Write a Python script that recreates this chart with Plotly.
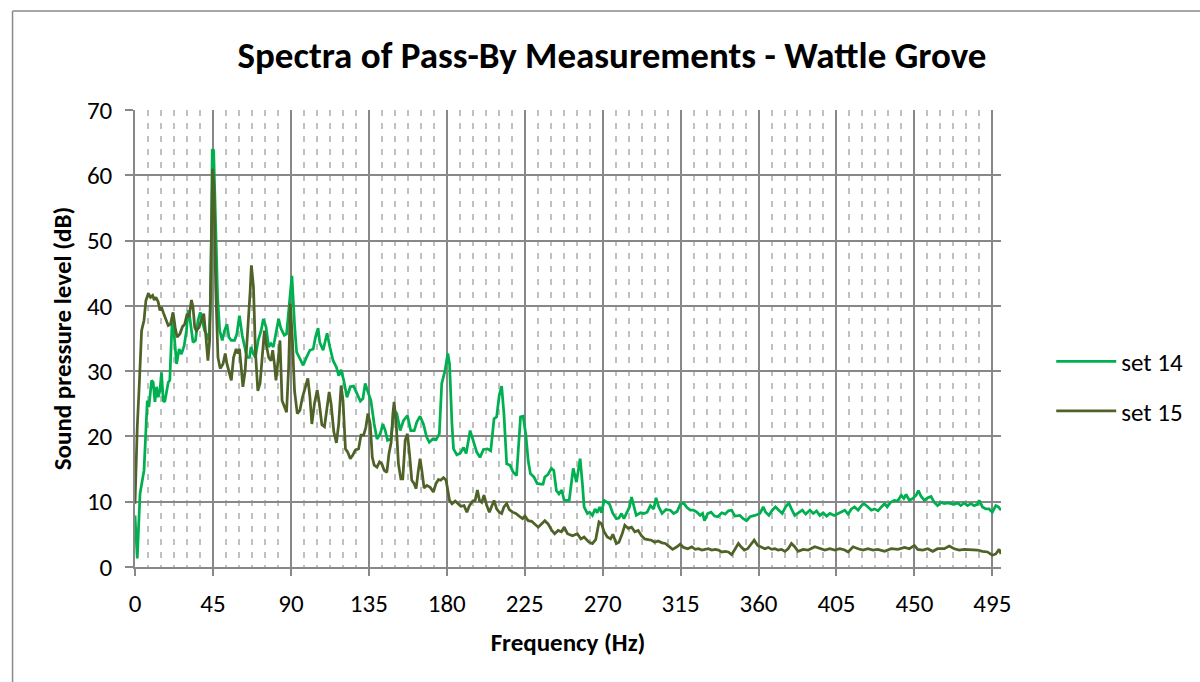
import plotly.graph_objects as go

# Spectrum of pass-by set 14 (frequency in Hz, level in dB)
set14_freq = [
    0, 1.3, 2.9, 5.2, 7.1, 8.0, 9.6, 10.5, 11.5, 12.5, 13.4, 14.4, 15.3, 16.3, 17.2, 19.2, 20.1, 21.6,
    24.0, 25.5, 26.8, 28.4, 29.7, 30.7, 31.6, 32.6, 33.5, 34.9, 36.4, 37.7, 38.9, 40.2, 41.6, 42.7,
    43.7, 44.6, 45.4, 46.6, 47.7, 48.9, 50.4, 51.7, 53.1, 54.2, 55.6, 57.5, 58.8, 60.3, 61.9, 63.2,
    64.6, 66.1, 67.0, 68.4, 69.5, 71.1, 72.8, 74.1, 75.7, 77.2, 78.5, 79.9, 81.4, 82.9, 84.3, 86.2,
    87.5, 89.1, 90.6, 92.1, 93.3, 95.2, 97.1, 99.0, 101.0, 102.9, 104.2, 105.7, 106.7, 108.6, 110.9,
    112.5, 114.4, 116.3, 117.6, 119.0, 120.5, 122.4, 124.3, 126.2, 128.2, 130.1, 131.6, 132.9, 134.3,
    136.2, 138.1, 139.7, 141.6, 143.1, 144.5, 145.8, 147.7, 149.7, 151.2, 153.1, 155.0, 157.3, 159.2,
    161.2, 162.7, 164.6, 166.5, 168.4, 169.9, 171.9, 173.8, 175.7, 177.1, 179.0, 180.6, 181.6, 183.0,
    183.9, 185.8, 187.7, 189.7, 191.2, 193.5, 195.4, 197.3, 199.2, 201.2, 203.5, 205.4, 207.3, 208.8,
    210.3, 211.7, 213.0, 214.6, 216.5, 218.4, 220.3, 221.8, 222.6, 224.1, 225.7, 227.0, 228.3, 230.3,
    232.2, 234.1, 235.6, 236.6, 238.5, 240.4, 241.8, 243.3, 244.8, 246.4, 247.8, 250.7, 253.0, 254.9,
    257.0, 258.3, 259.3, 261.2, 262.5, 264.1, 265.6, 266.9, 268.3, 269.4, 270.8, 272.7, 274.0, 275.9,
    277.9, 279.4, 280.9, 282.3, 284.2, 285.5, 286.7, 288.0, 289.4, 291.8, 293.8, 295.7, 297.6, 299.5,
    300.8, 302.4, 304.3, 306.6, 309.1, 311.0, 313.0, 314.8, 316.7, 318.7, 320.6, 322.5, 324.4, 326.3,
    327.7, 328.8, 330.7, 332.6, 334.6, 336.5, 338.8, 340.7, 342.6, 344.5, 346.4, 349.3, 351.2, 353.1,
    355.1, 357.9, 360.8, 362.7, 364.1, 366.0, 367.9, 369.8, 371.7, 373.7, 375.6, 377.5, 379.0, 380.9,
    382.5, 385.3, 387.2, 389.7, 391.6, 393.5, 395.4, 397.3, 399.3, 401.2, 403.7, 406.0, 407.9, 409.8,
    411.7, 413.6, 415.5, 417.5, 419.4, 420.9, 423.2, 425.1, 427.0, 429.0, 430.9, 432.8, 434.3, 436.2,
    438.5, 440.4, 442.4, 443.9, 445.2, 447.1, 449.1, 451.0, 452.3, 453.9, 455.8, 457.7, 459.6, 461.5,
    463.4, 465.4, 467.3, 469.2, 471.1, 473.0, 474.9, 476.8, 478.8, 480.7, 482.6, 484.5, 486.4, 487.4,
    489.3, 491.2, 493.1, 495.0, 497.0, 498.5, 500.0,
]
set14_level = [
    7.9, 1.3, 11.2, 14.8, 25.5, 24.5, 28.6, 28.3, 25.3, 27.6, 26.0, 27.0, 29.8, 25.5, 25.3, 28.3, 28.6, 38.8,
    31.1, 33.4, 32.6, 33.9, 36.2, 39.3, 38.3, 36.2, 34.4, 34.7, 37.8, 39.0, 37.8, 36.2, 35.5, 34.7,
    40.8, 64.0, 63.8, 53.6, 41.3, 36.2, 34.7, 36.2, 37.2, 35.2, 34.7, 34.7, 35.7, 38.5, 35.5, 33.9,
    32.1, 32.1, 33.7, 32.6, 32.1, 34.7, 36.2, 38.0, 36.7, 33.7, 34.2, 33.7, 35.7, 38.0, 36.5, 35.5,
    35.7, 39.8, 44.6, 37.2, 32.9, 31.9, 30.9, 32.1, 33.2, 33.4, 35.2, 36.6, 34.4, 33.2, 35.8,
    33.7, 31.6, 30.6, 29.3, 30.2, 28.6, 26.0, 27.6, 27.7, 26.5, 25.4, 25.8, 28.1, 27.0,
    25.5, 21.9, 19.6, 20.4, 21.9, 20.9, 19.4, 19.6, 24.0, 23.5, 20.9, 22.4, 23.2, 20.9,
    20.9, 22.2, 23.1, 21.9, 19.9, 19.1, 19.6, 19.5, 20.4, 28.1, 30.1, 32.7, 31.1, 21.9,
    18.1, 17.2, 17.4, 18.3, 17.4, 20.9, 19.4, 17.6, 16.8, 18.0, 18.1, 17.8, 22.7, 23.0,
    26.3, 27.7, 23.5, 15.8, 15.6, 14.5, 14.0, 19.4, 23.0, 23.1, 20.2, 16.3, 14.3, 13.8,
    12.8, 12.7, 12.7, 13.8, 14.2, 15.1, 14.8, 11.7, 11.2, 11.8, 10.2, 10.2, 15.1, 13.0,
    16.6, 12.8, 9.2, 8.2, 8.4, 7.9, 8.9, 8.3, 9.2, 8.3, 10.2, 9.9, 9.6, 8.2,
    7.4, 7.5, 8.2, 7.4, 8.4, 9.2, 10.7, 9.2, 7.9, 8.3, 8.2, 8.4, 9.4, 8.9,
    10.6, 9.2, 8.2, 8.8, 8.7, 8.2, 8.5, 9.6, 9.8, 9.1, 8.7, 8.7, 8.4, 7.9,
    8.2, 7.1, 8.2, 8.4, 7.8, 7.7, 8.3, 8.1, 8.6, 8.7, 7.8, 7.9, 7.4, 7.1,
    7.7, 7.9, 8.2, 9.2, 8.4, 7.9, 8.7, 9.2, 8.7, 8.2, 9.2, 9.8, 8.9, 7.9,
    8.2, 8.7, 8.1, 8.7, 8.2, 8.6, 7.9, 8.3, 7.8, 8.2, 7.9, 8.2, 8.4, 8.7,
    8.1, 8.9, 9.2, 8.7, 9.4, 9.7, 9.2, 8.7, 8.9, 8.6, 9.2, 9.7, 9.2, 9.9,
    10.2, 10.1, 11.0, 10.5, 11.1, 10.2, 10.5, 11.0, 11.7, 10.8, 10.2, 10.6, 10.8, 9.9,
    9.4, 9.9, 9.7, 9.8, 9.7, 9.6, 9.8, 9.4, 9.8, 9.4, 9.7, 9.4, 9.6, 10.2,
    9.2, 8.9, 8.9, 8.4, 9.4, 9.2, 8.7,
]

# Spectrum of pass-by set 15 (frequency in Hz, level in dB)
set15_freq = [
    0, 1.3, 2.5, 3.8, 5.2, 6.3, 7.7, 9.0, 10.2, 11.1, 12.1, 13.4, 14.4, 15.3, 16.3, 17.8, 19.2, 20.5,
    22.0, 23.2, 24.3, 25.9, 27.4, 28.7, 30.1, 31.2, 32.6, 33.5, 34.5, 35.4, 37.0, 38.3, 39.7, 40.8,
    42.1, 43.1, 44.1, 44.8, 45.6, 46.6, 47.9, 49.2, 50.8, 52.1, 53.1, 54.6, 55.6, 56.9, 58.4, 59.4,
    60.3, 61.3, 62.3, 63.6, 65.1, 66.5, 67.2, 68.4, 69.5, 70.9, 72.2, 73.8, 74.7, 75.7, 77.2, 78.5,
    79.5, 80.5, 81.4, 82.6, 83.7, 84.9, 86.2, 87.5, 88.7, 89.7, 90.8, 92.1, 93.7, 95.2, 96.7, 98.5,
    99.8, 101.0, 102.1, 103.6, 105.2, 106.3, 107.9, 109.4, 110.5, 112.1, 113.2, 114.8, 116.3, 117.6,
    119.0, 120.1, 121.5, 122.8, 124.3, 125.7, 127.2, 129.1, 130.5, 132.0, 133.3, 134.5, 135.8, 137.0,
    138.1, 139.7, 141.2, 142.5, 143.9, 145.4, 146.6, 147.9, 148.9, 149.6, 150.8, 152.1, 153.5, 154.6,
    156.0, 157.3, 158.5, 159.8, 161.1, 162.3, 163.6, 164.6, 165.6, 166.9, 168.5, 170.4, 172.3, 173.8,
    175.2, 176.5, 178.1, 179.6, 181.6, 183.0, 184.9, 186.8, 188.1, 190.0, 191.6, 193.1, 195.0, 196.4,
    197.7, 198.9, 200.2, 201.5, 203.1, 204.6, 205.9, 207.3, 208.8, 210.3, 211.7, 213.0, 214.6, 216.1,
    218.0, 219.9, 221.8, 223.8, 225.1, 227.0, 229.0, 230.9, 232.8, 234.7, 236.6, 238.5, 240.4, 242.3,
    244.3, 246.2, 247.8, 249.7, 252.6, 255.4, 257.4, 259.3, 262.1, 264.1, 266.0, 267.9, 269.4, 270.8,
    272.7, 274.6, 275.9, 277.9, 279.4, 281.3, 282.8, 284.8, 286.7, 288.6, 290.5, 292.4, 294.3, 296.2,
    298.2, 300.1, 302.0, 304.3, 306.2, 308.1, 310.4, 312.9, 314.8, 316.7, 319.2, 321.5, 323.4, 325.4,
    327.3, 329.2, 331.1, 333.0, 335.0, 336.9, 338.8, 340.7, 342.6, 344.5, 346.4, 348.4, 349.9, 351.8,
    353.7, 355.6, 357.5, 359.5, 361.8, 363.7, 365.6, 367.6, 369.4, 371.3, 373.3, 375.2, 377.1, 379.0,
    380.9, 382.8, 385.8, 388.7, 392.5, 395.4, 398.3, 401.2, 404.0, 406.9, 409.8, 411.7, 414.6, 417.5,
    420.3, 423.2, 426.1, 428.9, 432.8, 436.6, 440.4, 444.3, 447.1, 450.0, 451.9, 454.8, 457.7, 460.6,
    463.4, 467.3, 470.1, 473.0, 475.9, 478.8, 482.6, 486.4, 489.3, 492.2, 495.0, 497.0, 498.9, 500.0,
]
set15_level = [
    9.7, 21.4, 28.1, 36.2, 37.8, 40.8, 41.9, 41.3, 41.6, 40.9, 41.3, 40.6, 39.3, 39.8, 39.0, 37.8, 37.0, 37.2,
    39.0, 36.7, 35.2, 35.7, 36.8, 37.2, 38.8, 38.3, 40.9, 39.8, 36.7, 36.2, 36.7, 37.8, 38.8, 35.7,
    31.6, 34.7, 51.0, 61.0, 58.2, 42.9, 32.1, 30.4, 31.1, 32.7, 31.1, 29.6, 28.6, 32.1, 33.4, 32.7,
    33.4, 30.6, 27.6, 30.1, 35.7, 42.3, 46.2, 42.9, 33.2, 27.0, 28.1, 32.7, 36.2, 34.2, 32.1, 31.6,
    33.2, 31.1, 28.6, 31.6, 34.7, 25.5, 24.5, 23.7, 30.6, 40.3, 35.2, 27.0, 23.5, 24.0, 26.0, 27.6,
    28.9, 26.0, 21.9, 25.0, 27.1, 25.3, 21.8, 21.5, 24.0, 26.8, 25.0, 20.7, 19.0, 21.9,
    27.8, 25.5, 18.1, 17.6, 16.6, 17.1, 17.9, 18.1, 20.2, 20.2, 21.4, 23.5, 21.9, 16.8,
    15.6, 15.3, 16.1, 15.8, 14.8, 14.5, 17.3, 19.1, 23.5, 25.3, 21.9, 15.8, 13.5, 13.5,
    19.4, 20.4, 17.3, 13.3, 12.8, 12.0, 14.8, 16.6, 14.8, 12.1, 12.5, 12.2, 11.5, 12.8,
    13.4, 13.3, 13.7, 13.3, 10.2, 9.7, 10.1, 9.7, 9.3, 9.4, 8.4, 9.4, 10.1, 10.2,
    11.8, 10.2, 9.9, 11.0, 9.4, 8.4, 9.3, 10.2, 8.9, 8.4, 8.2, 9.2, 9.7, 8.8,
    8.4, 8.2, 7.8, 7.4, 7.8, 7.1, 7.0, 6.6, 6.1, 6.6, 7.1, 6.6, 5.7, 5.1,
    5.6, 5.4, 6.1, 5.1, 4.8, 5.1, 4.3, 4.6, 3.8, 3.6, 4.2, 6.9, 6.6, 5.4,
    4.6, 4.3, 5.0, 3.6, 3.8, 5.1, 6.4, 5.9, 6.1, 5.4, 5.6, 4.8, 4.3, 4.2,
    4.1, 3.8, 4.0, 3.7, 3.6, 3.2, 2.7, 3.1, 3.5, 3.0, 2.8, 3.1, 2.7, 2.8,
    2.6, 2.7, 2.8, 2.6, 2.7, 2.6, 2.3, 2.4, 2.3, 1.9, 2.7, 3.6, 3.1, 2.6,
    2.8, 3.5, 4.1, 3.3, 3.0, 2.8, 3.0, 2.7, 2.8, 2.6, 2.7, 2.4, 2.8, 3.6,
    3.1, 2.4, 2.7, 2.6, 3.1, 2.8, 2.6, 2.8, 2.6, 2.8, 2.6, 2.3, 3.1, 2.8,
    2.6, 2.8, 2.6, 2.7, 2.4, 2.8, 2.7, 3.0, 2.8, 3.3, 2.7, 2.6, 2.8, 2.4,
    2.8, 2.8, 3.2, 2.8, 2.6, 2.7, 2.6, 2.6, 2.4, 2.3, 1.8, 2.0, 2.7, 2.0,
]

FONT = "Carlito, Lato, sans-serif"
GRID = "#888888"
MINOR = "#c0c0c0"

fig = go.Figure()
fig.add_trace(go.Scatter(
    x=set14_freq, y=set14_level, mode="lines", name="set 14", legendgroup="a",
    line=dict(color="#00B050", width=2.75),
))
fig.add_trace(go.Scatter(
    x=set15_freq, y=set15_level, mode="lines", name="set 15", legendgroup="b",
    line=dict(color="#4F6228", width=2.75),
))

fig.update_layout(
    width=1200, height=682,
    margin=dict(l=135, r=195, t=110, b=115),
    paper_bgcolor="white", plot_bgcolor="white",
    font=dict(family=FONT, color="black", size=25),
    title=dict(
        text="<b>Spectra of Pass-By Measurements - Wattle Grove</b>",
        x=0.51, xanchor="center", yref="container", y=0.919, yanchor="middle",
        font=dict(family=FONT, size=37, color="black"),
    ),
    legend=dict(
        x=1.058, xanchor="left", y=0.5, yanchor="top",
        font=dict(family=FONT, size=25, color="black"),
        itemwidth=60, tracegroupgap=14, bgcolor="rgba(0,0,0,0)",
    ),
    showlegend=True,
)

fig.update_xaxes(
    range=[0, 500], tick0=0, dtick=45, showgrid=True, gridcolor=GRID, gridwidth=1.5,
    showline=True, linecolor=GRID, linewidth=1.5, zeroline=False,
    ticks="outside", ticklen=7, tickwidth=1.5, tickcolor=GRID, ticklabelstandoff=6,
    tickfont=dict(family=FONT, size=25, color="black"),
    minor=dict(dtick=7.5, tick0=0, showgrid=True, gridcolor=MINOR, gridwidth=1.5, griddash="6px,7px"),
    title=dict(text="<b>Frequency (Hz)</b>", standoff=16, font=dict(family=FONT, size=25, color="black")),
)
fig.update_yaxes(
    range=[0, 70], tick0=0, dtick=10, showgrid=True, gridcolor=GRID, gridwidth=1.5,
    showline=True, linecolor=GRID, linewidth=1.5, zeroline=False,
    ticks="outside", ticklen=8, tickwidth=1.5, tickcolor=GRID, ticklabelstandoff=8,
    tickfont=dict(family=FONT, size=25, color="black"),
    title=dict(text="<b>Sound pressure level (dB)</b>", standoff=8, font=dict(family=FONT, size=25, color="black")),
)

# Chart-area frame (left and top edges)
frame = dict(type="line", xref="paper", yref="paper", line=dict(color="#8a8a8a", width=1.5))
fig.add_shape(x0=-0.1414, y0=1.2166, x1=-0.1414, y1=-0.35, **frame)
fig.add_shape(x0=-0.1414, y0=1.2166, x1=1.25, y1=1.2166, **frame)

fig.write_html("out.html")
